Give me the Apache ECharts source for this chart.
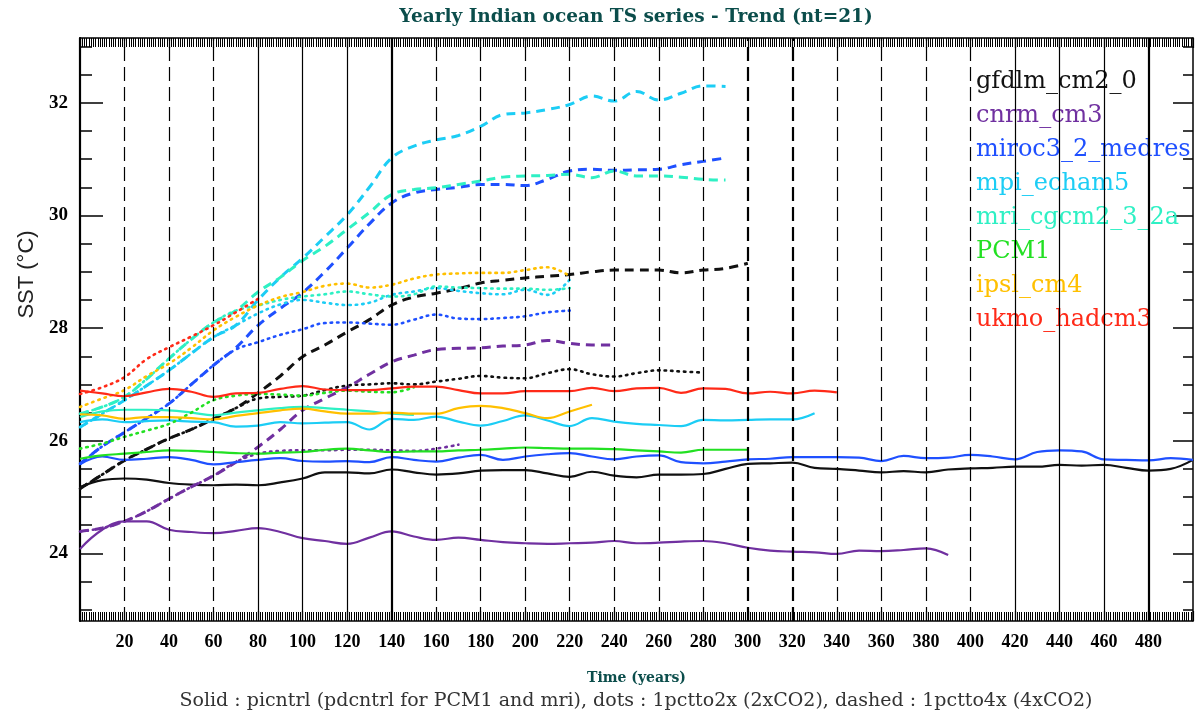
<!DOCTYPE html>
<html>
<head>
<meta charset="utf-8">
<title>Yearly Indian ocean TS series</title>
<script src="https://cdn.jsdelivr.net/npm/echarts@6.0.0/dist/echarts.min.js"></script>
<style>
  html, body { margin: 0; padding: 0; background: #fff; }
  #main { width: 1195px; height: 717px; }
</style>
</head>
<body>
<div id="main"></div>
<script>
// years of the smoothed (nt=21) series, one value every 10 years
const years = [0, 10, 20, 30, 40, 50, 60, 70, 80, 90, 100, 110, 120, 130, 140, 150, 160, 170, 180, 190,
  200, 210, 220, 230, 240, 250, 260, 270, 280, 290, 300, 310, 320, 330, 340, 350, 360, 370, 380, 390,
  400, 410, 420, 430, 440, 450, 460, 470, 480, 490, 500];

const models = ["gfdlm_cm2_0", "cnrm_cm3", "miroc3_2_medres", "mpi_echam5", "mri_cgcm2_3_2a", "PCM1", "ipsl_cm4", "ukmo_hadcm3"];
const modelColors = ["#111111", "#7030a0", "#1f50ff", "#1ccdf5", "#2ef0c4", "#22e022", "#ffc000", "#ff2a18"];

// gfdlm_cm2_0
const gfdlCtl = [25.18, 25.3, 25.33, 25.31, 25.25, 25.22, 25.21, 25.22, 25.21, 25.26, 25.33, 25.44, 25.44, 25.42, 25.49, 25.44, 25.4, 25.42, 25.47, 25.48,
  25.48, 25.42, 25.36, 25.45, 25.38, 25.35, 25.4, 25.4, 25.41, 25.5, 25.59, 25.6, 25.61, 25.52, 25.5, 25.47, 25.44, 25.46, 25.44, 25.49,
  25.51, 25.52, 25.54, 25.54, 25.57, 25.56, 25.57, 25.52, 25.47, 25.5, 25.66];
const gfdl2x = [25.15, 25.4, 25.65, 25.85, 26.04, 26.2, 26.39, 26.58, 26.75, 26.78, 26.8, 26.9, 26.98, 27.0, 27.02, 27.0, 27.05, 27.1, 27.15, 27.12,
  27.11, 27.2, 27.27, 27.18, 27.14, 27.2, 27.25, 27.23, 27.21];
const gfdl4x = [25.15, 25.4, 25.65, 25.85, 26.04, 26.2, 26.39, 26.58, 26.85, 27.15, 27.49, 27.7, 27.93, 28.15, 28.41, 28.55, 28.62, 28.7, 28.8, 28.85,
  28.89, 28.92, 28.95, 29.0, 29.03, 29.03, 29.03, 28.98, 29.03, 29.06, 29.15];

// cnrm_cm3
const cnrmCtl = [24.08, 24.42, 24.57, 24.57, 24.42, 24.38, 24.36, 24.4, 24.45, 24.38, 24.27, 24.22, 24.17, 24.28, 24.39, 24.3, 24.24, 24.28, 24.24, 24.2,
  24.18, 24.17, 24.18, 24.19, 24.22, 24.18, 24.19, 24.21, 24.22, 24.18, 24.1, 24.05, 24.03, 24.02, 23.99, 24.05, 24.04, 24.06, 24.09, 23.97];
const cnrm2x = [24.39, 24.45, 24.57, 24.75, 24.97, 25.18, 25.38, 25.62, 25.77, 25.82, 25.83, 25.83, 25.84, 25.84, 25.83, 25.82, 25.86, 25.93];
const cnrm4x = [24.39, 24.45, 24.57, 24.75, 24.97, 25.18, 25.38, 25.62, 25.89, 26.2, 26.54, 26.75, 26.95, 27.18, 27.4, 27.52, 27.62, 27.64, 27.65, 27.68,
  27.7, 27.78, 27.73, 27.7, 27.7];

// miroc3_2_medres
const mirocCtl = [25.58, 25.72, 25.66, 25.68, 25.71, 25.66, 25.58, 25.62, 25.66, 25.69, 25.64, 25.63, 25.64, 25.62, 25.71, 25.66, 25.63, 25.7, 25.75, 25.66,
  25.72, 25.76, 25.78, 25.72, 25.67, 25.72, 25.74, 25.62, 25.6, 25.63, 25.67, 25.68, 25.71, 25.71, 25.71, 25.7, 25.64, 25.73, 25.69, 25.7,
  25.75, 25.72, 25.67, 25.8, 25.83, 25.81, 25.67, 25.66, 25.65, 25.69, 25.66];
const miroc2x = [25.59, 25.9, 26.15, 26.4, 26.66, 27.0, 27.34, 27.62, 27.75, 27.88, 27.98, 28.09, 28.1, 28.08, 28.06, 28.15, 28.24, 28.17, 28.16, 28.18,
  28.21, 28.28, 28.31];
const miroc4x = [25.59, 25.9, 26.15, 26.4, 26.66, 27.0, 27.34, 27.65, 28.05, 28.35, 28.63, 29.0, 29.42, 29.85, 30.22, 30.4, 30.46, 30.5, 30.55, 30.55,
  30.53, 30.64, 30.79, 30.82, 30.8, 30.81, 30.82, 30.9, 30.96, 31.02];

// mpi_echam5
const mpiCtl = [26.33, 26.38, 26.33, 26.35, 26.36, 26.34, 26.33, 26.25, 26.27, 26.33, 26.31, 26.32, 26.33, 26.2, 26.39, 26.37, 26.43, 26.34, 26.27, 26.35,
  26.45, 26.36, 26.26, 26.4, 26.34, 26.3, 26.28, 26.26, 26.37, 26.36, 26.37, 26.38, 26.38, 26.49];
const mpi2x = [26.24, 26.48, 26.72, 26.98, 27.25, 27.55, 27.84, 28.05, 28.26, 28.42, 28.5, 28.45, 28.41, 28.45, 28.59, 28.65, 28.71, 28.66, 28.62, 28.6,
  28.68, 28.59, 28.86];
const mpi4x = [26.24, 26.48, 26.72, 26.98, 27.25, 27.55, 27.84, 28.05, 28.5, 28.9, 29.24, 29.62, 30.01, 30.5, 31.02, 31.23, 31.34, 31.42, 31.58, 31.79,
  31.82, 31.88, 31.97, 32.12, 32.03, 32.2, 32.05, 32.17, 32.3, 32.29];

// mri_cgcm2_3_2a
const mriCtl = [26.42, 26.52, 26.55, 26.55, 26.54, 26.5, 26.45, 26.5, 26.54, 26.58, 26.6, 26.58, 26.55, 26.52, 26.48, 26.46];
const mri2x = [26.48, 26.6, 26.78, 27.1, 27.46, 27.8, 28.1, 28.31, 28.4, 28.5, 28.56, 28.6, 28.65, 28.6, 28.56, 28.6, 28.74, 28.72, 28.71, 28.7,
  28.7, 28.68, 28.71];
const mri4x = [26.48, 26.6, 26.78, 27.1, 27.46, 27.8, 28.1, 28.31, 28.64, 28.9, 29.2, 29.45, 29.75, 30.05, 30.37, 30.46, 30.49, 30.55, 30.61, 30.68,
  30.7, 30.71, 30.73, 30.67, 30.79, 30.7, 30.7, 30.68, 30.64, 30.63];

// PCM1
const pcmCtl = [25.68, 25.74, 25.77, 25.8, 25.83, 25.82, 25.8, 25.78, 25.77, 25.79, 25.8, 25.84, 25.86, 25.83, 25.8, 25.81, 25.81, 25.83, 25.84, 25.86,
  25.88, 25.87, 25.86, 25.86, 25.85, 25.83, 25.81, 25.79, 25.84, 25.84, 25.84];
const pcm2x = [25.86, 25.95, 26.07, 26.18, 26.3, 26.5, 26.72, 26.8, 26.83, 26.82, 26.8, 26.85, 26.89, 26.87, 26.86, 26.95];

// ipsl_cm4
const ipslCtl = [26.47, 26.45, 26.39, 26.42, 26.42, 26.4, 26.38, 26.44, 26.49, 26.54, 26.57, 26.52, 26.48, 26.48, 26.5, 26.48, 26.48, 26.58, 26.62, 26.58,
  26.49, 26.4, 26.52, 26.64];
const ipsl2x = [26.6, 26.75, 26.9, 27.15, 27.37, 27.65, 27.96, 28.2, 28.4, 28.55, 28.64, 28.75, 28.79, 28.72, 28.77, 28.88, 28.95, 28.97, 28.98, 28.98,
  29.03, 29.08, 28.92];

// ukmo_hadcm3
const ukmoCtl = [26.89, 26.84, 26.79, 26.86, 26.92, 26.87, 26.78, 26.84, 26.85, 26.92, 26.97, 26.91, 26.9, 26.9, 26.93, 26.96, 26.96, 26.9, 26.84, 26.84,
  26.88, 26.88, 26.88, 26.94, 26.88, 26.93, 26.94, 26.85, 26.93, 26.92, 26.84, 26.87, 26.84, 26.89, 26.86];
const ukmo2x = [26.83, 26.95, 27.13, 27.45, 27.66, 27.85, 28.05, 28.28, 28.52];

// vertical reference lines every 20 years
const gridYears = [20, 40, 60, 80, 100, 120, 140, 160, 180, 200, 220, 240, 260, 280, 300, 320, 340, 360, 380, 400, 420, 440, 460, 480];
const yMajor = [24, 26, 28, 30, 32];
const yMinor = [23, 23.5, 24.5, 25, 25.5, 26.5, 27, 27.5, 28.5, 29, 29.5, 30.5, 31, 31.5, 32.5, 33];

const runs = [
  [0, "ctl", gfdlCtl], [0, "2x", gfdl2x], [0, "4x", gfdl4x],
  [1, "ctl", cnrmCtl], [1, "2x", cnrm2x], [1, "4x", cnrm4x],
  [2, "ctl", mirocCtl], [2, "2x", miroc2x], [2, "4x", miroc4x],
  [3, "ctl", mpiCtl], [3, "2x", mpi2x], [3, "4x", mpi4x],
  [4, "ctl", mriCtl], [4, "2x", mri2x], [4, "4x", mri4x],
  [5, "ctl", pcmCtl], [5, "2x", pcm2x],
  [6, "ctl", ipslCtl], [6, "2x", ipsl2x],
  [7, "ctl", ukmoCtl], [7, "2x", ukmo2x]
];

const solidGrid = [80, 100, 120, 140, 420, 440, 460, 480];
const thickGrid = [140, 300, 320, 480];

const serif = "'Liberation Serif', 'DejaVu Serif', serif";
const wideSerif = "'DejaVu Serif', serif";

const lineStyles = {
  ctl: { width: 2.2, type: "solid" },
  "2x": { width: 2.6, type: [1.5, 5], cap: "round" },
  "4x": { width: 3, type: [9, 6] }
};

const series = [
  {
    name: "grid",
    type: "line",
    data: [],
    z: 1,
    silent: true,
    markLine: {
      silent: true,
      symbol: ["none", "none"],
      label: { show: false },
      emphasis: { disabled: true },
      animation: false,
      data: gridYears.map(function (y) {
        return {
          xAxis: y,
          lineStyle: {
            color: "#000",
            width: thickGrid.includes(y) ? 2.2 : 1.2,
            type: solidGrid.includes(y) ? "solid" : [14, 6],
            opacity: 1
          }
        };
      })
    }
  }
];

runs.forEach(function (r) {
  const vals = r[2];
  series.push({
    name: models[r[0]],
    type: "line",
    z: 3,
    smooth: 0.4,
    showSymbol: false,
    symbol: "none",
    color: modelColors[r[0]],
    lineStyle: Object.assign({ color: modelColors[r[0]] }, lineStyles[r[1]]),
    emphasis: { disabled: true },
    data: vals.map(function (v, i) { return [years[i], v]; })
  });
});

const xCommon = {
  type: "value",
  min: 0,
  max: 500,
  interval: 20,
  axisLine: { show: true, lineStyle: { color: "#000", width: 1.5 } },
  axisTick: { show: true, inside: true, length: 10, lineStyle: { color: "#000", width: 1.2 } },
  minorTick: { show: true, splitNumber: 20, length: 9, lineStyle: { color: "#000", width: 1 } },
  splitLine: { show: false }
};

const yCommon = {
  type: "value",
  min: 22.8,
  max: 33.15,
  splitLine: { show: false },
  axisLabel: { show: false }
};

const option = {
  animation: false,
  backgroundColor: "#fff",
  title: [
    {
      text: "Yearly Indian ocean TS series - Trend (nt=21)",
      left: 636,
      textAlign: "center",
      top: 8,
      padding: 0,
      textStyle: { fontFamily: wideSerif, fontSize: 18.5, fontWeight: "bold", color: "#0b4d4b" }
    },
    {
      text: "Solid : picntrl (pdcntrl for PCM1 and mri), dots : 1pctto2x (2xCO2), dashed : 1pctto4x (4xCO2)",
      left: 636,
      textAlign: "center",
      top: 692,
      padding: 0,
      textStyle: { fontFamily: wideSerif, fontSize: 19, fontWeight: "normal", color: "#333" }
    }
  ],
  legend: {
    show: true,
    orient: "vertical",
    left: 966,
    top: 65,
    itemWidth: 0,
    itemHeight: 0,
    itemGap: 10,
    selectedMode: false,
    textStyle: { fontFamily: wideSerif, fontSize: 24 },
    data: models.map(function (m, i) {
      return { name: m, icon: "rect", itemStyle: { opacity: 0 }, lineStyle: { opacity: 0 }, textStyle: { color: modelColors[i] } };
    })
  },
  grid: { left: 80, right: 2, top: 38, bottom: 96, containLabel: false },
  xAxis: [
    Object.assign({}, xCommon, {
      position: "bottom",
      name: "Time (years)",
      nameLocation: "middle",
      nameGap: 50,
      nameTextStyle: { fontFamily: wideSerif, fontSize: 14, fontWeight: "bold", color: "#0b4d4b" },
      axisLabel: {
        show: true,
        margin: 12,
        showMinLabel: false,
        showMaxLabel: false,
        fontFamily: serif,
        fontSize: 18,
        fontWeight: "bold",
        color: "#000"
      }
    }),
    Object.assign({}, xCommon, {
      position: "top",
      axisLabel: { show: false }
    })
  ],
  yAxis: [
    Object.assign({}, yCommon, {
      position: "left",
      name: "SST (°C)",
      nameLocation: "middle",
      nameGap: 34,
      nameTextStyle: { fontFamily: "'Liberation Sans', sans-serif", fontSize: 22, color: "#222", padding: [0, 0, 0, 110] },
      axisLine: { show: true, lineStyle: { color: "#000", width: 2.2 } },
      axisTick: { show: true, inside: true, length: 23, customValues: yMajor, lineStyle: { color: "#000", width: 1.5 } },
      axisLabel: {
        show: true,
        customValues: yMajor,
        margin: 12,
        fontFamily: serif,
        fontSize: 19,
        fontWeight: "bold",
        color: "#000"
      }
    }),
    Object.assign({}, yCommon, {
      position: "left",
      axisLine: { show: false },
      axisTick: { show: true, inside: true, length: 12, customValues: yMinor, lineStyle: { color: "#000", width: 1.5 } }
    }),
    Object.assign({}, yCommon, {
      position: "right",
      axisLine: { show: true, lineStyle: { color: "#000", width: 1.5 } },
      axisTick: { show: true, inside: true, length: 20, customValues: yMajor, lineStyle: { color: "#000", width: 1.5 } }
    }),
    Object.assign({}, yCommon, {
      position: "right",
      axisLine: { show: false },
      axisTick: { show: true, inside: true, length: 10, customValues: yMinor, lineStyle: { color: "#000", width: 1.5 } }
    })
  ],
  series: series
};

const chart = echarts.init(document.getElementById("main"));
chart.setOption(option);
</script>
</body>
</html>
